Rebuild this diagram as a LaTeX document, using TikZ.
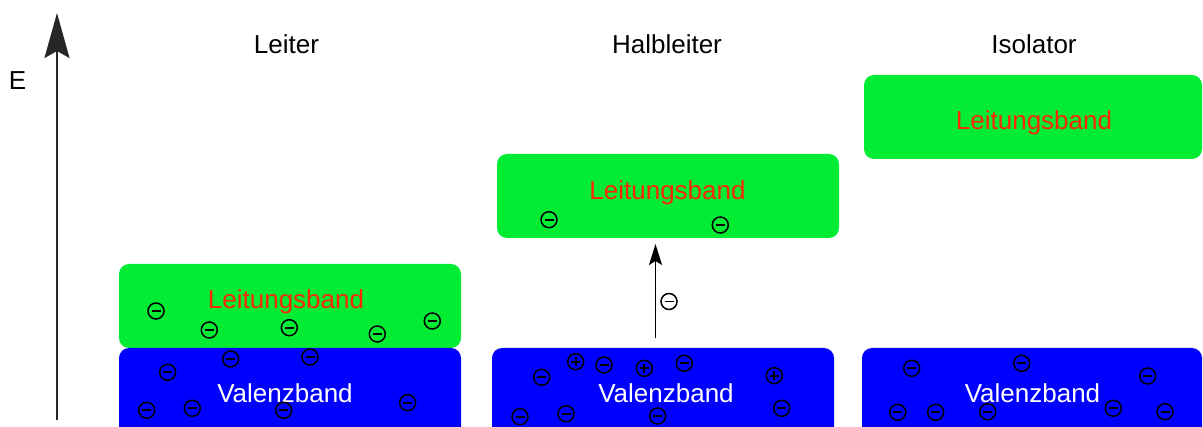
\documentclass[tikz,border=0pt]{standalone}
\usepackage{fontspec}
\setmainfont{Liberation Sans}
\usetikzlibrary{arrows.meta}
\definecolor{bandgreen}{RGB}{2,236,52}
\definecolor{bandblue}{RGB}{0,0,255}
\definecolor{bandred}{RGB}{250,40,10}
\tikzset{
  band/.style={draw=none, rounded corners=10pt, inner sep=0pt},
  lb/.style={band, fill=bandgreen},
  vb/.style={band, fill=bandblue},
  txt/.style={font=\fontsize{26}{30}\selectfont, anchor=base, inner sep=0pt},
  elec/.style={circle, draw=black, line width=1.5pt, minimum size=16pt, inner sep=0pt},
  sign/.style={line width=1.8pt, draw=black}
}
\newcommand{\minussign}[1]{\draw[sign] ([xshift=-4.5pt]#1.center) -- ([xshift=4.5pt]#1.center);}
\newcommand{\plussign}[1]{\draw[sign] ([xshift=-4.5pt]#1.center) -- ([xshift=4.5pt]#1.center) ([yshift=-4.5pt]#1.center) -- ([yshift=4.5pt]#1.center);}
\begin{document}
\begin{tikzpicture}[x=1pt,y=-1pt]
\useasboundingbox (0,0) rectangle (1203,427);
\clip (0,0) rectangle (1203,427);
% bands
\draw[lb] (119,264) rectangle (461,348);
\node[inner sep=0pt] (Llb) at (290,306) {};
\draw[vb] (119,348) rectangle (461,460);
\node[inner sep=0pt] (Lvb) at (290,395) {};
\draw[lb] (497,154) rectangle (839,238);
\node[inner sep=0pt] (Hlb) at (668,196) {};
\draw[vb] (492,348) rectangle (834,460);
\node[inner sep=0pt] (Hvb) at (663,395) {};
\draw[lb] (864,75) rectangle (1202,159);
\node[inner sep=0pt] (Ilb) at (1033,117) {};
\draw[vb] (862,348) rectangle (1202,460);
\node[inner sep=0pt] (Ivb) at (1032,395) {};
% titles
\node[txt] (tL) at (286.5,53.3) {Leiter};
\node[txt] (tH) at (667,53.3) {Halbleiter};
\node[txt] (tI) at (1034,53.3) {Isolator};
\node[txt] (tE) at (17.5,90) {E};
% band labels
\node[txt, text=bandred] (lL) at (286,309) {Leitungsband};
\node[txt, text=white] (vL) at (285,402.5) {Valenzband};
\node[txt, text=bandred] (lH) at (667.5,200) {Leitungsband};
\node[txt, text=white] (vH) at (666,402.7) {Valenzband};
\node[txt, text=bandred] (lI) at (1034,130) {Leitungsband};
\node[txt, text=white] (vI) at (1032.5,402.7) {Valenzband};
% energy axis
\coordinate (ax0) at (57,420);
\coordinate (ax1) at (57,13);
\draw[line width=1.5pt, draw=black!85, -{Stealth[length=45pt,width=25pt,inset=7pt]}] (ax0) -- (ax1);
% excitation arrow
\coordinate (ex0) at (655.5,338);
\coordinate (ex1) at (655.5,244);
\draw[line width=1.3pt, -{Stealth[length=21pt,width=13pt,inset=4pt]}] (ex0) -- (ex1);
\node[elec] (ex) at (669,301.5) {};
\minussign{ex}
% Leiter electrons
\foreach \x/\y [count=\i] in {156/311, 209.3/330, 289.3/327.7, 377.3/334, 432.3/321,
  230.7/359, 310/357, 167.7/372.3, 146.7/410.3, 192.3/408.3, 283.7/410.3, 407.7/402.7}
  {\node[elec] (le\i) at (\x,\y) {}; \minussign{le\i}}
% Halbleiter electrons
\foreach \x/\y [count=\i] in {549/219.7, 720.3/225, 604/365, 684.3/363.3, 541.7/377.3,
  520/416.7, 566/413.7, 657.7/416, 781.7/408.3}
  {\node[elec] (he\i) at (\x,\y) {}; \minussign{he\i}}
% Halbleiter holes
\foreach \x/\y [count=\i] in {575.7/361.7, 644.3/368.3, 774.3/375.7}
  {\node[elec] (hh\i) at (\x,\y) {}; \plussign{hh\i}}
% Isolator electrons
\foreach \x/\y [count=\i] in {911.7/368.3, 1021.7/363.3, 1147.7/376, 897.7/412.3,
  935.7/412.3, 987.7/411.7, 1113.3/408.3, 1165/411.7}
  {\node[elec] (ie\i) at (\x,\y) {}; \minussign{ie\i}}
\end{tikzpicture}
\end{document}
